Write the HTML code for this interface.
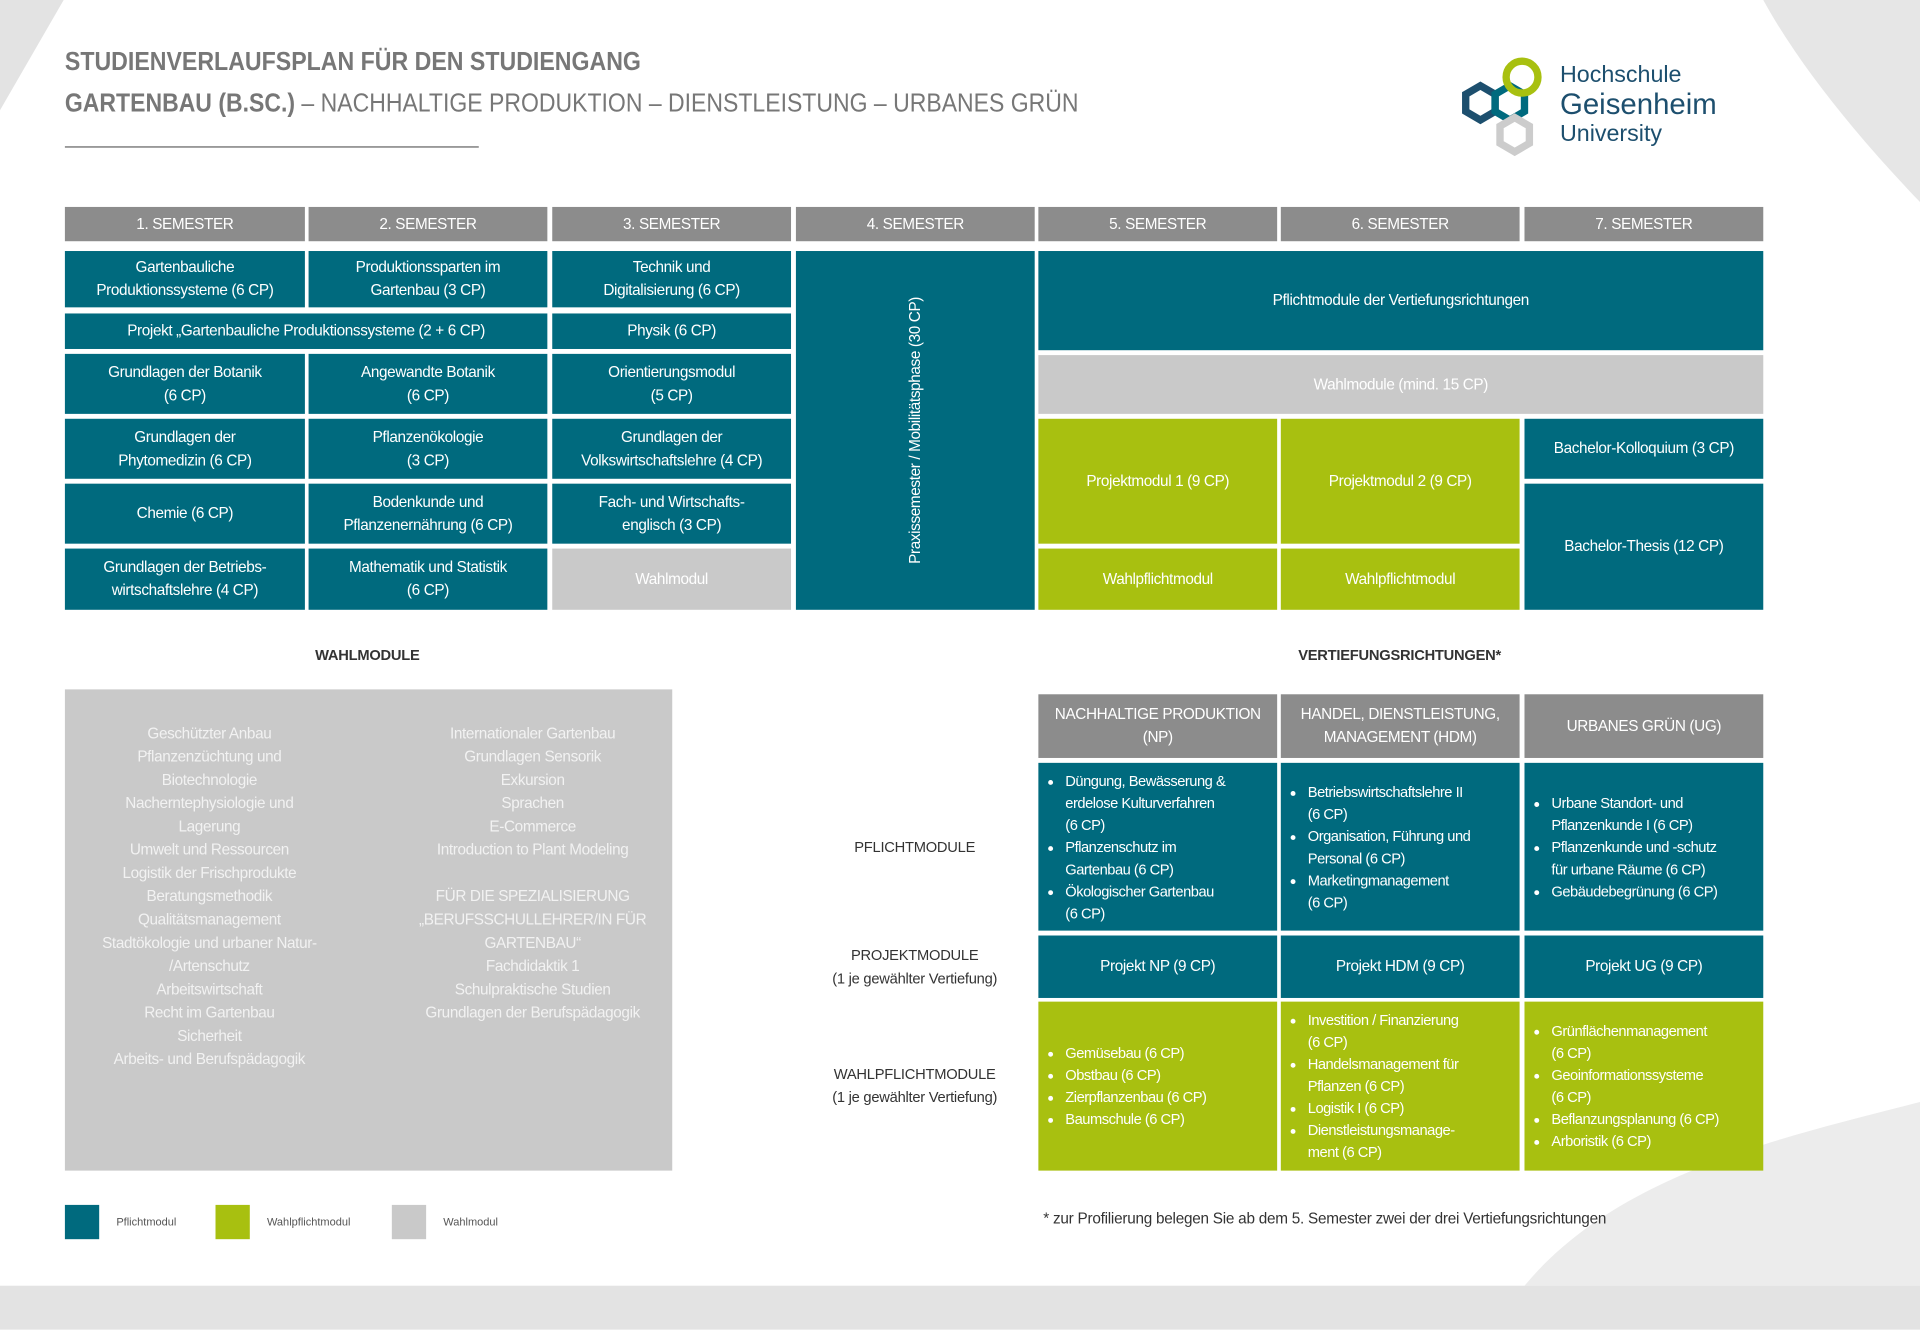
<!DOCTYPE html>
<html><head><meta charset="utf-8">
<style>
html,body{margin:0;padding:0;background:#fff;}
body{width:1920px;height:1330px;overflow:hidden;position:relative;}
#s{position:absolute;left:0;top:0;width:1568px;height:1086px;transform:scale(1.22449);transform-origin:0 0;font-family:"Liberation Sans Narrow","Liberation Sans",sans-serif;}
.c{position:absolute;display:flex;align-items:center;justify-content:center;text-align:center;color:#fff;font-size:12.5px;letter-spacing:-0.3px;line-height:19px;box-sizing:border-box;padding:0 4px;}
.t{background:#006a7e;}
.g{background:#a8c010;}
.l{background:#c9c9c9;}
.h{background:#8c8c8c;}
.lab{position:absolute;color:#333;font-size:12px;text-align:center;line-height:19px;letter-spacing:-0.2px;}
ul{margin:0;padding:0 0 0 14px;text-align:left;}
li{margin:0;}
.b{justify-content:flex-start;}
.sm{font-size:12px;line-height:18px;padding-left:8px;letter-spacing:-0.4px;}
</style></head><body><div id="s">
<svg style="position:absolute;left:0;top:0" width="1568" height="1086">
<polygon points="0,0 52,0 0,90" fill="#e3e3e3"/>
<path d="M1440,0 L1568,0 L1568,165 C1520,115 1470,55 1440,0 Z" fill="#e6e6e6"/>
<path d="M1245,1050 C1320,960 1450,930 1568,900 L1568,1050 Z" fill="#ececec"/>
<rect x="0" y="1050" width="1568" height="36" fill="#e3e3e3"/>
<line x1="53" y1="120" x2="391" y2="120" stroke="#999" stroke-width="1.5"/>
<g transform="translate(1185,45)">
<polygon points="12,32 24,25 36,32 36,46 24,53 12,46" fill="none" stroke="#1d4f6e" stroke-width="6"/>
<polygon points="36,32 48,25 60,32 60,46 48,53 36,46" fill="none" stroke="#006a7e" stroke-width="6"/>
<circle cx="58" cy="18" r="13" fill="none" stroke="#a8c010" stroke-width="6"/>
<polygon points="40,58 52,51 64,58 64,72 52,79 40,72" fill="none" stroke="#ccc" stroke-width="6"/>
<text x="89" y="22" font-size="19" fill="#1d4f6e" font-family="Liberation Sans">Hochschule</text>
<text x="89" y="48" font-size="24" fill="#1d4f6e" font-family="Liberation Sans">Geisenheim</text>
<text x="89" y="70" font-size="19" fill="#1d4f6e" font-family="Liberation Sans">University</text>
</g>
</svg>
<div style="position:absolute;left:53px;top:39px;font-size:21px;font-weight:bold;color:#777;white-space:nowrap;transform:scaleX(0.9);transform-origin:0 0">STUDIENVERLAUFSPLAN FÜR DEN STUDIENGANG</div>
<div style="position:absolute;left:53px;top:73px;font-size:21px;color:#777;white-space:nowrap;transform:scaleX(0.895);transform-origin:0 0"><b>GARTENBAU (B.SC.)</b> – NACHHALTIGE PRODUKTION – DIENSTLEISTUNG – URBANES GRÜN</div>

<div class="c h" style="left:53px;top:169px;width:196px;height:28px">1. SEMESTER</div>
<div class="c h" style="left:252px;top:169px;width:195px;height:28px">2. SEMESTER</div>
<div class="c h" style="left:451px;top:169px;width:195px;height:28px">3. SEMESTER</div>
<div class="c h" style="left:650px;top:169px;width:195px;height:28px">4. SEMESTER</div>
<div class="c h" style="left:848px;top:169px;width:195px;height:28px">5. SEMESTER</div>
<div class="c h" style="left:1046px;top:169px;width:195px;height:28px">6. SEMESTER</div>
<div class="c h" style="left:1245px;top:169px;width:195px;height:28px">7. SEMESTER</div>

<div class="c t" style="left:53px;top:205px;width:196px;height:46px">Gartenbauliche<br>Produktionssysteme (6 CP)</div>
<div class="c t" style="left:252px;top:205px;width:195px;height:46px">Produktionssparten im<br>Gartenbau (3 CP)</div>
<div class="c t" style="left:451px;top:205px;width:195px;height:46px">Technik und<br>Digitalisierung (6 CP)</div>
<div class="c t" style="left:53px;top:256px;width:394px;height:29px">Projekt „Gartenbauliche Produktionssysteme (2 + 6 CP)</div>
<div class="c t" style="left:451px;top:256px;width:195px;height:29px">Physik (6 CP)</div>
<div class="c t" style="left:53px;top:289px;width:196px;height:49px">Grundlagen der Botanik<br>(6 CP)</div>
<div class="c t" style="left:252px;top:289px;width:195px;height:49px">Angewandte Botanik<br>(6 CP)</div>
<div class="c t" style="left:451px;top:289px;width:195px;height:49px">Orientierungsmodul<br>(5 CP)</div>
<div class="c t" style="left:53px;top:342px;width:196px;height:49px">Grundlagen der<br>Phytomedizin (6 CP)</div>
<div class="c t" style="left:252px;top:342px;width:195px;height:49px">Pflanzenökologie<br>(3 CP)</div>
<div class="c t" style="left:451px;top:342px;width:195px;height:49px">Grundlagen der<br>Volkswirtschaftslehre (4 CP)</div>
<div class="c t" style="left:53px;top:395px;width:196px;height:49px">Chemie (6 CP)</div>
<div class="c t" style="left:252px;top:395px;width:195px;height:49px">Bodenkunde und<br>Pflanzenernährung (6 CP)</div>
<div class="c t" style="left:451px;top:395px;width:195px;height:49px">Fach- und Wirtschafts-<br>englisch (3 CP)</div>
<div class="c t" style="left:53px;top:448px;width:196px;height:50px">Grundlagen der Betriebs-<br>wirtschaftslehre (4 CP)</div>
<div class="c t" style="left:252px;top:448px;width:195px;height:50px">Mathematik und Statistik<br>(6 CP)</div>
<div class="c l" style="left:451px;top:448px;width:195px;height:50px">Wahlmodul</div>
<div class="c t" style="left:650px;top:205px;width:195px;height:293px"><div style="transform:rotate(-90deg);white-space:nowrap">Praxissemester / Mobilitätsphase (30 CP)</div></div>
<div class="c t" style="left:848px;top:205px;width:592px;height:81px">Pflichtmodule der Vertiefungsrichtungen</div>
<div class="c l" style="left:848px;top:290px;width:592px;height:48px">Wahlmodule (mind. 15 CP)</div>
<div class="c g" style="left:848px;top:342px;width:195px;height:102px">Projektmodul 1 (9 CP)</div>
<div class="c g" style="left:1046px;top:342px;width:195px;height:102px">Projektmodul 2 (9 CP)</div>
<div class="c g" style="left:848px;top:448px;width:195px;height:50px">Wahlpflichtmodul</div>
<div class="c g" style="left:1046px;top:448px;width:195px;height:50px">Wahlpflichtmodul</div>
<div class="c t" style="left:1245px;top:342px;width:195px;height:49px">Bachelor-Kolloquium (3 CP)</div>
<div class="c t" style="left:1245px;top:395px;width:195px;height:103px">Bachelor-Thesis (12 CP)</div>

<div class="lab" style="left:200px;top:526px;width:200px;font-weight:bold">WAHLMODULE</div>
<div class="lab" style="left:943px;top:526px;width:400px;font-weight:bold">VERTIEFUNGSRICHTUNGEN*</div>

<div style="position:absolute;left:53px;top:563px;width:496px;height:393px;background:#c9c9c9"></div>
<div class="c" style="left:53px;top:590px;width:236px;display:block;color:#f2f2f2">Geschützter Anbau<br>Pflanzenzüchtung und<br>Biotechnologie<br>Nacherntephysiologie und<br>Lagerung<br>Umwelt und Ressourcen<br>Logistik der Frischprodukte<br>Beratungsmethodik<br>Qualitätsmanagement<br>Stadtökologie und urbaner Natur-<br>/Artenschutz<br>Arbeitswirtschaft<br>Recht im Gartenbau<br>Sicherheit<br>Arbeits- und Berufspädagogik</div>
<div class="c" style="left:320px;top:590px;width:230px;display:block;color:#f2f2f2">Internationaler Gartenbau<br>Grundlagen Sensorik<br>Exkursion<br>Sprachen<br>E-Commerce<br>Introduction to Plant Modeling<br><br>FÜR DIE SPEZIALISIERUNG<br>„BERUFSSCHULLEHRER/IN FÜR<br>GARTENBAU“<br>Fachdidaktik 1<br>Schulpraktische Studien<br>Grundlagen der Berufspädagogik</div>

<div class="c h" style="left:848px;top:567px;width:195px;height:52px">NACHHALTIGE PRODUKTION<br>(NP)</div>
<div class="c h" style="left:1046px;top:567px;width:195px;height:52px">HANDEL, DIENSTLEISTUNG,<br>MANAGEMENT (HDM)</div>
<div class="c h" style="left:1245px;top:567px;width:195px;height:52px">URBANES GRÜN (UG)</div>
<div class="c t b sm" style="left:848px;top:623px;width:195px;height:137px"><ul><li>Düngung, Bewässerung &amp;<br>erdelose Kulturverfahren<br>(6 CP)</li><li>Pflanzenschutz im<br>Gartenbau (6 CP)</li><li>Ökologischer Gartenbau<br>(6 CP)</li></ul></div>
<div class="c t b sm" style="left:1046px;top:623px;width:195px;height:137px"><ul><li>Betriebswirtschaftslehre II<br>(6 CP)</li><li>Organisation, Führung und<br>Personal (6 CP)</li><li>Marketingmanagement<br>(6 CP)</li></ul></div>
<div class="c t b sm" style="left:1245px;top:623px;width:195px;height:137px"><ul><li>Urbane Standort- und<br>Pflanzenkunde I (6 CP)</li><li>Pflanzenkunde und -schutz<br>für urbane Räume (6 CP)</li><li>Gebäudebegrünung (6 CP)</li></ul></div>
<div class="c t" style="left:848px;top:764px;width:195px;height:51px">Projekt NP (9 CP)</div>
<div class="c t" style="left:1046px;top:764px;width:195px;height:51px">Projekt HDM (9 CP)</div>
<div class="c t" style="left:1245px;top:764px;width:195px;height:51px">Projekt UG (9 CP)</div>
<div class="c g b sm" style="left:848px;top:818px;width:195px;height:138px"><ul><li>Gemüsebau (6 CP)</li><li>Obstbau (6 CP)</li><li>Zierpflanzenbau (6 CP)</li><li>Baumschule (6 CP)</li></ul></div>
<div class="c g b sm" style="left:1046px;top:818px;width:195px;height:138px"><ul><li>Investition / Finanzierung<br>(6 CP)</li><li>Handelsmanagement für<br>Pflanzen (6 CP)</li><li>Logistik I (6 CP)</li><li>Dienstleistungsmanage-<br>ment (6 CP)</li></ul></div>
<div class="c g b sm" style="left:1245px;top:818px;width:195px;height:138px"><ul><li>Grünflächenmanagement<br>(6 CP)</li><li>Geoinformationssysteme<br>(6 CP)</li><li>Beflanzungsplanung (6 CP)</li><li>Arboristik (6 CP)</li></ul></div>

<div class="lab" style="left:647px;top:683px;width:200px">PFLICHTMODULE</div>
<div class="lab" style="left:647px;top:771px;width:200px">PROJEKTMODULE<br>(1 je gewählter Vertiefung)</div>
<div class="lab" style="left:647px;top:868px;width:200px">WAHLPFLICHTMODULE<br>(1 je gewählter Vertiefung)</div>

<div style="position:absolute;left:53px;top:984px;width:28px;height:28px;background:#006a7e"></div>
<div style="position:absolute;left:95px;top:993px;font-size:9px;color:#555">Pflichtmodul</div>
<div style="position:absolute;left:176px;top:984px;width:28px;height:28px;background:#a8c010"></div>
<div style="position:absolute;left:218px;top:993px;font-size:9px;color:#555">Wahlpflichtmodul</div>
<div style="position:absolute;left:320px;top:984px;width:28px;height:28px;background:#c9c9c9"></div>
<div style="position:absolute;left:362px;top:993px;font-size:9px;color:#555">Wahlmodul</div>
<div style="position:absolute;left:852px;top:988px;font-size:12.5px;color:#333;white-space:nowrap;letter-spacing:-0.2px">* zur Profilierung belegen Sie ab dem 5. Semester zwei der drei Vertiefungsrichtungen</div>
</div></body></html>
